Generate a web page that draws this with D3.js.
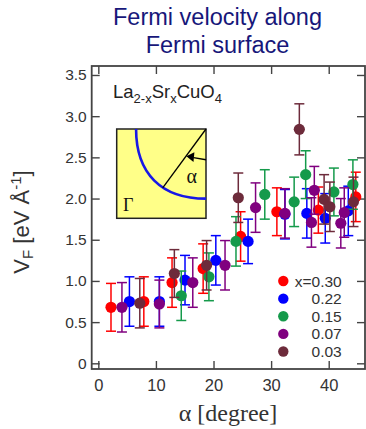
<!DOCTYPE html>
<html><head><meta charset="utf-8">
<script src="https://cdn.jsdelivr.net/npm/d3@7"></script>
<style>body{margin:0;background:#fff}svg{display:block}</style>
</head><body><svg id="c" width="366" height="429"></svg>
<script>
// ---- data ----
const seriesNames = ["x=0.30", "0.22", "0.15", "0.07", "0.03"];
const seriesColors = ["#ff0000", "#0000ff", "#159a4b", "#80007f", "#6d2b3b"];

const alpha030 = [2.2, 7.9, 12.8, 18.2, 24.7, 31.0, 38.2, 44.7];
const vf030    = [0.68, 0.75, 0.98, 1.15, 1.54, 1.84, 1.86, 2.02];
const err030   = [0.29, 0.30, 0.30, 0.30, 0.30, 0.29, 0.28, 0.30];

const alpha022 = [5.4, 10.6, 15.05, 20.4, 26.0, 32.4, 36.2, 39.4, 43.4];
const vf022    = [0.75, 0.75, 1.01, 1.25, 1.48, 1.81, 1.82, 1.76, 1.85];
const err022   = [0.30, 0.30, 0.30, 0.30, 0.27, 0.30, 0.30, 0.30, 0.30];

const alpha015 = [14.4, 19.2, 23.9, 28.9, 34.0, 36.0, 40.9, 44.2];
const vf015    = [0.82, 1.05, 1.48, 2.05, 1.96, 2.29, 2.08, 2.17];
const err015   = [0.30, 0.29, 0.30, 0.30, 0.30, 0.29, 0.29, 0.30];

const alpha007 = [4.1, 10.6, 16.4, 22.0, 27.3, 32.4, 37.5, 37.0, 42.1, 42.7];
const vf007    = [0.68, 0.72, 0.98, 1.19, 1.89, 1.82, 2.10, 1.71, 1.70, 1.83];
const err007   = [0.30, 0.29, 0.30, 0.30, 0.30, 0.30, 0.29, 0.30, 0.30, 0.30];

const alpha003 = [7.2, 13.2, 18.8, 24.3, 34.9, 39.2, 40.2, 44.3];
const vf003    = [0.73, 1.09, 1.19, 2.01, 2.84, 1.99, 1.90, 1.96];
const err003   = [0.30, 0.29, 0.30, 0.30, 0.31, 0.30, 0.30, 0.30];

const xTicks = [0, 10, 20, 30, 40];
const yTicks = [0, 0.5, 1.0, 1.5, 2.0, 2.5, 3.0, 3.5];
const yTickLabels = ["0", "0.5", "1.0", "1.5", "2.0", "2.5", "3.0", "3.5"];

const seriesAlpha = [alpha030, alpha022, alpha015, alpha007, alpha003];
const seriesVf = [vf030, vf022, vf015, vf007, vf003];
const seriesErr = [err030, err022, err015, err007, err003];

// ---- layout ----
const L = 91.7, R = 365, T = 66, B = 369;
const svg = d3.select("#c");
const x = d3.scaleLinear().domain([-1.15, 46.3]).range([L, R]);
const y = d3.scaleLinear().domain([-0.069, 3.609]).range([B, T]);

// title
const title = svg.append("text").attr("text-anchor", "middle")
  .attr("font-family", "Liberation Sans, Arial, sans-serif").attr("font-size", 23.5)
  .attr("fill", "#17177a");
title.append("tspan").attr("x", 217.5).attr("y", 25).text("Fermi velocity along");
title.append("tspan").attr("x", 217.5).attr("y", 53).text("Fermi surface");

// axes
const axisColor = "#444";
function styleAxis(g, showLabels, fs) {
  g.select(".domain").remove();
  g.selectAll(".tick line").attr("stroke", axisColor).attr("stroke-width", 1.4);
  g.selectAll(".tick text").attr("fill", "#333")
    .attr("font-family", "Liberation Sans, Arial, sans-serif").attr("font-size", fs);
  if (!showLabels) g.selectAll(".tick text").remove();
}
svg.append("g").attr("transform", `translate(${L},0)`)
  .call(d3.axisLeft(y).tickValues(yTicks).tickFormat((d, i) => yTickLabels[i]).tickSize(-8).tickPadding(5))
  .call(g => styleAxis(g, true, 15.5));
svg.append("g").attr("transform", `translate(${R},0)`)
  .call(d3.axisRight(y).tickValues(yTicks).tickSize(-8))
  .call(g => styleAxis(g, false, 15));
svg.append("g").attr("transform", `translate(0,${B})`)
  .call(d3.axisBottom(x).tickValues(xTicks).tickFormat(d3.format("d")).tickSize(-8).tickPadding(10))
  .call(g => styleAxis(g, true, 16.5));
svg.append("g").attr("transform", `translate(0,${T})`)
  .call(d3.axisTop(x).tickValues(xTicks).tickSize(-8))
  .call(g => styleAxis(g, false, 15));

// frame
svg.append("rect").attr("x", L).attr("y", T).attr("width", R - L).attr("height", B - T)
  .attr("fill", "none").attr("stroke", axisColor).attr("stroke-width", 1.8);

// axis titles
svg.append("text").attr("x", 228).attr("y", 421).attr("text-anchor", "middle")
  .attr("font-family", "Liberation Serif, Times New Roman, serif").attr("font-size", 24)
  .attr("fill", "#333").text("α [degree]");
const yl = svg.append("text").attr("transform", "translate(29,222) rotate(-90)")
  .attr("text-anchor", "middle").attr("font-family", "Liberation Sans, Arial, sans-serif")
  .attr("font-size", 22).attr("fill", "#333");
yl.append("tspan").text("V");
yl.append("tspan").attr("font-size", 15).attr("dy", 4).text("F");
yl.append("tspan").attr("dy", -4).text(" [eV Å");
yl.append("tspan").attr("font-size", 15).attr("dy", -8).text("-1");
yl.append("tspan").attr("dy", 8).text("]");

// compound label
const cl = svg.append("text").attr("x", 113).attr("y", 97.5)
  .attr("font-family", "Liberation Sans, Arial, sans-serif").attr("font-size", 18.5).attr("fill", "#222");
cl.append("tspan").text("La");
cl.append("tspan").attr("font-size", 13).attr("dy", 5).text("2-x");
cl.append("tspan").attr("dy", -5).text("Sr");
cl.append("tspan").attr("font-size", 13).attr("dy", 5).text("x");
cl.append("tspan").attr("dy", -5).text("CuO");
cl.append("tspan").attr("font-size", 13).attr("dy", 5).text("4");

// inset schematic
const ix = d3.scaleLinear().domain([0, 1]).range([116.7, 206]);
const iy = d3.scaleLinear().domain([0, 1]).range([129, 218.3]);
const inset = svg.append("g");
inset.append("rect").attr("x", ix(0)).attr("y", iy(0)).attr("width", ix(1) - ix(0)).attr("height", iy(1) - iy(0))
  .attr("fill", "#ffff88").attr("stroke", "#222").attr("stroke-width", 1.5);
const fsPath = d3.path();
fsPath.moveTo(ix(0.217), iy(0));
fsPath.bezierCurveTo(ix(0.217), iy(0.5), ix(0.5), iy(0.78), ix(1), iy(0.78));
inset.append("path").attr("d", fsPath.toString()).attr("fill", "none")
  .attr("stroke", "#1818e6").attr("stroke-width", 2.6);
inset.append("line").attr("x1", ix(1)).attr("y1", iy(0)).attr("x2", ix(0.515)).attr("y2", iy(0.66))
  .attr("stroke", "#000").attr("stroke-width", 1.3);
inset.append("line").attr("x1", ix(1)).attr("y1", iy(0.345)).attr("x2", ix(0.86)).attr("y2", iy(0.32))
  .attr("stroke", "#000").attr("stroke-width", 1.4);
inset.append("path")
  .attr("d", `M${ix(0.78)},${iy(0.305)} L${ix(0.87)},${iy(0.26)} L${ix(0.86)},${iy(0.37)} Z`)
  .attr("fill", "#000");
inset.append("text").attr("x", ix(0.84)).attr("y", iy(0.6)).attr("text-anchor", "middle")
  .attr("font-family", "Liberation Serif, Times New Roman, serif").attr("font-size", 20).attr("fill", "#111").text("α");
inset.append("text").attr("x", ix(0.07)).attr("y", iy(0.92))
  .attr("font-family", "Liberation Serif, Times New Roman, serif").attr("font-size", 18).attr("fill", "#111").text("Γ");

// data
const capW = 5, rDot = 5.6;
seriesNames.forEach((name, si) => {
  const pts = seriesAlpha[si].map((a, i) => ({ a, v: seriesVf[si][i], e: seriesErr[si][i] }));
  const col = seriesColors[si];
  const g = svg.append("g");
  const eb = g.selectAll("g.eb").data(pts).join("g").attr("stroke", col).attr("stroke-width", 1.5);
  eb.append("line").attr("x1", d => x(d.a)).attr("x2", d => x(d.a))
    .attr("y1", d => y(d.v + d.e)).attr("y2", d => y(d.v - d.e));
  eb.append("line").attr("x1", d => x(d.a) - capW).attr("x2", d => x(d.a) + capW)
    .attr("y1", d => y(d.v + d.e)).attr("y2", d => y(d.v + d.e));
  eb.append("line").attr("x1", d => x(d.a) - capW).attr("x2", d => x(d.a) + capW)
    .attr("y1", d => y(d.v - d.e)).attr("y2", d => y(d.v - d.e));
  g.selectAll("circle").data(pts).join("circle")
    .attr("cx", d => x(d.a)).attr("cy", d => y(d.v)).attr("r", rDot).attr("fill", col);
});

// legend
const legY = d3.scaleLinear().domain([0, 4]).range([281, 351.5]);
const leg = svg.append("g");
seriesNames.forEach((name, i) => {
  leg.append("circle").attr("cx", 283.3).attr("cy", legY(i)).attr("r", 5.2).attr("fill", seriesColors[i]);
  leg.append("text").attr("x", 341.7).attr("y", legY(i) + 5.5).attr("text-anchor", "end")
    .attr("font-family", "Liberation Sans, Arial, sans-serif").attr("font-size", 15.5).attr("fill", "#333")
    .text(name);
});
</script></body></html>
